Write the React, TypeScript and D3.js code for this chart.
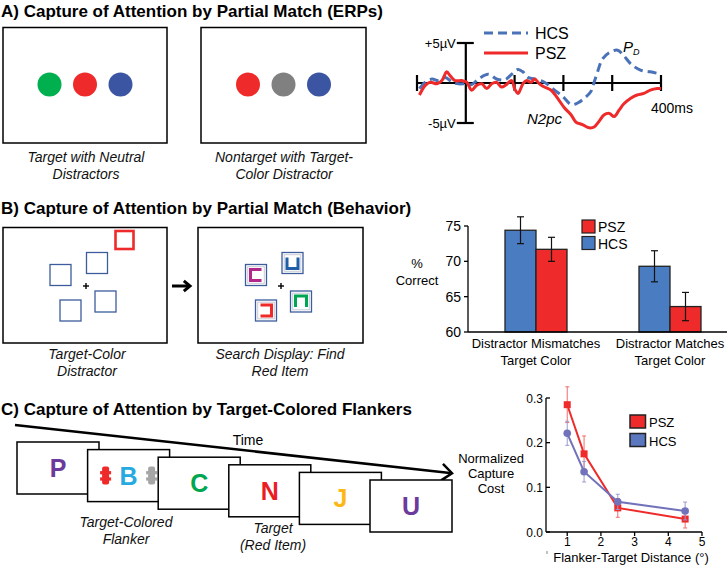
import React from 'react';
import * as d3 from 'd3';

const FONT = "'Liberation Sans', Arial, Helvetica, sans-serif";

// ---------- Panel A: ERP waveforms (time in ms, amplitude in µV) ----------
const hcsTime = [-95, -83, -69, -56, -42, -28, -15, 2, 12, 26, 46, 63, 80, 94, 107, 117, 127, 141, 161, 182, 199, 216, 229, 243, 256, 263, 270, 280, 294, 311, 324, 338, 358, 378, 400];
const hcsUV = [-0.7, 0.1, 0.5, 0.3, 0.7, 0.1, -0.1, -0.1, -0.2, 0.5, 1.1, 0.5, 0.4, 1.1, 1.7, 1.4, 0.7, 0.5, 0.1, -0.9, -1.7, -2.7, -2.5, -1.9, -1.1, 0.1, 1.4, 3.0, 3.8, 4.1, 3.4, 2.4, 1.6, 1.4, 1.1];
const pszTime = [-95, -83, -73, -59, -49, -39, -32, -22, -8, 2, 12, 22, 33, 43, 53, 63, 73, 83, 94, 100, 107, 117, 124, 134, 141, 151, 161, 175, 188, 202, 216, 226, 239, 253, 263, 273, 283, 294, 304, 314, 324, 338, 351, 365, 378, 392, 400];
const pszUV = [-1.5, -0.3, 0.1, -0.1, 0.3, 1.4, 0.9, 0.3, 0.3, 0.1, -0.9, -0.3, -0.1, -0.7, -0.1, 0.1, -0.5, -0.2, 0.3, -0.7, -1.3, -0.1, 0.3, 0.1, 0.5, -0.1, -0.5, -0.9, -1.9, -3.1, -4.0, -4.9, -5.2, -5.6, -5.5, -4.8, -4.0, -3.8, -4.2, -3.4, -2.6, -1.9, -1.5, -1.3, -0.9, -0.7, -0.7];
const erpTimeTicks = [-100, 100, 200, 300, 400];
const erpVoltTicks = [5, -5];
const erpVoltLabels = ['+5µV', '-5µV'];

// ---------- Panel B: accuracy bars ----------
const barCategories = [['Distractor Mismatches', 'Target Color'], ['Distractor Matches', 'Target Color']];
const barGroups = ['HCS', 'PSZ'];
const hcsCorrect = [74.4, 69.3];
const hcsCorrectErr = [1.9, 2.2];
const pszCorrect = [71.7, 63.6];
const pszCorrectErr = [1.7, 2.0];
const correctTicks = [60, 65, 70, 75];

// ---------- Panel C: capture cost ----------
const distances = [1, 1.5, 2.5, 4.5];
const pszCost = [0.285, 0.175, 0.054, 0.029];
const pszCostErr = [0.04, 0.04, 0.021, 0.02];
const hcsCost = [0.221, 0.135, 0.0675, 0.047];
const hcsCostErr = [0.027, 0.023, 0.017, 0.02];
const costTicks = [0, 0.1, 0.2, 0.3];
const distanceTicks = [1, 2, 3, 4, 5];

// ---------- Illustration content ----------
const dotsA1 = ['#00b04f', '#ee2a2a', '#3b55a3'];
const dotsA2 = ['#ee2a2a', '#808080', '#3b55a3'];
const frameLetters = ['P', 'B', 'C', 'N', 'J', 'U'];
const frameColors = ['#6b3a9b', '#27aae1', '#00a650', '#ec1c24', '#fbb817', '#6b3a9b'];

const RED = '#ee2a2a';
const BAR_BLUE = '#4a7cc2';
const ERP_BLUE = '#4a72b8';
const LINE_BLUE = '#7272bb';
const SQ_BLUE = '#3c5c9c';

function Title({ y, children }: { y: number; children: string }) {
  return (
    <text x={1} y={y} fontFamily={FONT} fontWeight="bold" fontSize={17} fill="#000">{children}</text>
  );
}

function Caption({ x, y, lines, size = 14 }: { x: number; y: number; lines: string[]; size?: number }) {
  return (
    <text fontFamily={FONT} fontStyle="italic" fontSize={size} textAnchor="middle" fill="#111">
      {lines.map((l, i) => (
        <tspan key={i} x={x} y={y + i * 17}>{l}</tspan>
      ))}
    </text>
  );
}

function Fixation({ x, y }: { x: number; y: number }) {
  return (
    <g stroke="#000" strokeWidth={1.4}>
      <line x1={x - 3} x2={x + 3} y1={y} y2={y} />
      <line x1={x} x2={x} y1={y - 3} y2={y + 3} />
    </g>
  );
}

function Chevron({ x, y, dx, dy, size, width }: { x: number; y: number; dx: number; dy: number; size: number; width: number }) {
  const ang = Math.atan2(dy, dx);
  const a1 = ang + Math.PI * 0.78;
  const a2 = ang - Math.PI * 0.78;
  return (
    <path
      d={`M${x + size * Math.cos(a1)},${y + size * Math.sin(a1)}L${x},${y}L${x + size * Math.cos(a2)},${y + size * Math.sin(a2)}`}
      fill="none" stroke="#000" strokeWidth={width} strokeLinejoin="miter"
    />
  );
}

export default function App() {
  // ===== Panel A ERP =====
  const ex = d3.scaleLinear().domain([-100, 400]).range([417, 661]);
  const ey = d3.scaleLinear().domain([-5, 5]).range([123, 43]);
  const erpLine = d3.line<number>()
    .x((_, i) => 0)
    .curve(d3.curveCatmullRom.alpha(0.5));
  const hcsPath = d3.line<[number, number]>().x(d => ex(d[0])).y(d => ey(d[1])).curve(d3.curveCatmullRom.alpha(0.5))(hcsTime.map((t, i) => [t, hcsUV[i]]));
  const pszPath = d3.line<[number, number]>().x(d => ex(d[0])).y(d => ey(d[1])).curve(d3.curveCatmullRom.alpha(0.5))(pszTime.map((t, i) => [t, pszUV[i]]));
  void erpLine;

  // ===== Panel B bars =====
  const by = d3.scaleLinear().domain([60, 75]).range([332, 226]);
  const bx = d3.scaleBand<number>().domain([0, 1]).range([469, 737]).padding(0);
  const bw = bx.bandwidth();
  const barW = 31;
  const sub = d3.scaleBand<string>().domain(barGroups).range([bw / 2 - barW, bw / 2 + barW]).padding(0);
  const barSeries = [
    { name: 'HCS', vals: hcsCorrect, errs: hcsCorrectErr, color: BAR_BLUE },
    { name: 'PSZ', vals: pszCorrect, errs: pszCorrectErr, color: RED },
  ];

  // ===== Panel C line chart =====
  const lx = d3.scaleLinear().domain([0.37, 5]).range([546, 702]);
  const ly = d3.scaleLinear().domain([0, 0.3]).range([532, 398]);
  const costLine = d3.line<[number, number]>().x(d => lx(d[0])).y(d => ly(d[1]));
  const lineSeries = [
    { name: 'PSZ', vals: pszCost, errs: pszCostErr, color: RED, err: '#f26b6b', shape: 'square' },
    { name: 'HCS', vals: hcsCost, errs: hcsCostErr, color: LINE_BLUE, err: '#9a9ad2', shape: 'circle' },
  ];

  // ===== Panel B illustration geometry =====
  const sqOffsets: [number, number][] = [[-24.5, -10], [12, -22], [20.5, 16.5], [-14.5, 25.5]];
  const sqSize = 21;
  const m = 5;
  const s = sqSize;
  const bracketPaths = [
    `M${s - m},${m}L${m},${m}L${m},${s - m}L${s - m},${s - m}`, // open right
    `M${m},${m}L${m},${s - m}L${s - m},${s - m}L${s - m},${m}`, // open top
    `M${m},${s - m}L${m},${m}L${s - m},${m}L${s - m},${s - m}`, // open bottom
    `M${m},${m}L${s - m},${m}L${s - m},${s - m}L${m},${s - m}`, // open left
  ];
  const bracketColors = ['#b3268a', '#1f5fa8', '#00a651', RED];

  return (
    <svg width={727} height={565} style={{ position: 'absolute', left: 0, top: 0, background: '#fff' }} fontFamily={FONT}>
      <rect x={0} y={0} width={727} height={565} fill="#fff" />

      {/* ================= Panel A ================= */}
      <Title y={17}>A) Capture of Attention by Partial Match (ERPs)</Title>
      <rect x={3} y={27.5} width={164} height={115.5} fill="none" stroke="#000" strokeWidth={1.5} />
      <rect x={201} y={27.5} width={165} height={115.5} fill="none" stroke="#000" strokeWidth={1.5} />
      {dotsA1.map((c, i) => <circle key={'a1' + i} cx={85 + (i - 1) * 35.5} cy={84.5} r={12} fill={c} />)}
      {dotsA2.map((c, i) => <circle key={'a2' + i} cx={283.5 + (i - 1) * 35.5} cy={84.5} r={12} fill={c} />)}
      <Caption x={86} y={162} lines={['Target with Neutral', 'Distractors']} />
      <Caption x={284} y={162} lines={['Nontarget with Target-', 'Color Distractor']} />

      {/* ERP axes */}
      <g stroke="#000" strokeWidth={2.2}>
        <line x1={ex(-100)} x2={ex(400)} y1={ey(0)} y2={ey(0)} />
        {erpTimeTicks.map(t => <line key={t} x1={ex(t)} x2={ex(t)} y1={ey(0) - 8} y2={ey(0) + 8} />)}
        <line x1={ex(0)} x2={ex(0)} y1={ey(5)} y2={ey(-5)} />
        {erpVoltTicks.map(v => <line key={v} x1={ex(0) - 9} x2={ex(0) + 8} y1={ey(v)} y2={ey(v)} />)}
      </g>
      {erpVoltTicks.map((v, i) => (
        <text key={v} x={ex(0) - 10} y={ey(v) + 5} textAnchor="end" fontSize={13}>{erpVoltLabels[i]}</text>
      ))}
      <path d={hcsPath || ''} fill="none" stroke={ERP_BLUE} strokeWidth={3} strokeDasharray="9,5" />
      <path d={pszPath || ''} fill="none" stroke={RED} strokeWidth={3} />
      {/* ERP legend */}
      <line x1={484} x2={528} y1={33} y2={33} stroke={ERP_BLUE} strokeWidth={3} strokeDasharray="9,5" />
      <line x1={484} x2={528} y1={53} y2={53} stroke={RED} strokeWidth={3} />
      <text x={535} y={39} fontSize={16}>HCS</text>
      <text x={535} y={59} fontSize={16}>PSZ</text>
      <text x={623} y={52} fontSize={15} fontStyle="italic">P<tspan fontSize={9} dy={3}>D</tspan></text>
      <text x={527} y={124} fontSize={15} fontStyle="italic">N2pc</text>
      <text x={651} y={113} fontSize={14}>400ms</text>

      {/* ================= Panel B ================= */}
      <Title y={214}>B) Capture of Attention by Partial Match (Behavior)</Title>
      <rect x={3} y={227.5} width={164} height={115.5} fill="none" stroke="#000" strokeWidth={1.5} />
      <rect x={198} y={227.5} width={165} height={115.5} fill="none" stroke="#000" strokeWidth={1.5} />
      {/* box 1 */}
      {sqOffsets.map(([dx, dy], i) => (
        <rect key={'s1' + i} x={85 + dx - sqSize / 2} y={285 + dy - sqSize / 2} width={sqSize} height={sqSize} fill="none" stroke={SQ_BLUE} strokeWidth={1.3} />
      ))}
      <rect x={85 + 39.5 - 9} y={285 - 45 - 9} width={18} height={18} fill="none" stroke={RED} strokeWidth={2.6} />
      <Fixation x={86} y={286} />
      {/* arrow */}
      <line x1={172} x2={189} y1={286} y2={286} stroke="#000" strokeWidth={3} />
      <Chevron x={190} y={286} dx={1} dy={0} size={8} width={3} />
      {/* box 2 */}
      {sqOffsets.map(([dx, dy], i) => {
        const x0 = 280.5 + dx - sqSize / 2;
        const y0 = 285 + dy - sqSize / 2;
        return (
          <g key={'s2' + i} transform={`translate(${x0},${y0})`}>
            <rect x={0} y={0} width={sqSize} height={sqSize} fill="none" stroke={SQ_BLUE} strokeWidth={1.3} />
            <rect x={2.2} y={2.2} width={sqSize - 4.4} height={sqSize - 4.4} fill="none" stroke="#c9cbd8" strokeWidth={1} />
            <path d={bracketPaths[i]} fill="none" stroke={bracketColors[i]} strokeWidth={3} strokeLinecap="butt" />
          </g>
        );
      })}
      <Fixation x={281} y={286} />
      <Caption x={87} y={359} lines={['Target-Color', 'Distractor']} />
      <Caption x={280} y={359} lines={['Search Display: Find', 'Red Item']} />

      {/* bar chart */}
      {barSeries.map(sr => sr.vals.map((v, i) => (
        <rect key={sr.name + i} x={(bx(i) || 0) + (sub(sr.name) || 0)} y={by(v)} width={barW} height={by(60) - by(v)}
          fill={sr.color} stroke="#222" strokeWidth={1.3} />
      )))}
      {barSeries.map(sr => sr.vals.map((v, i) => {
        const cx = (bx(i) || 0) + (sub(sr.name) || 0) + barW / 2;
        return (
          <g key={'e' + sr.name + i} stroke="#111" strokeWidth={1.2}>
            <line x1={cx} x2={cx} y1={by(v + sr.errs[i])} y2={by(v - sr.errs[i])} />
            <line x1={cx - 3.5} x2={cx + 3.5} y1={by(v + sr.errs[i])} y2={by(v + sr.errs[i])} />
            <line x1={cx - 3.5} x2={cx + 3.5} y1={by(v - sr.errs[i])} y2={by(v - sr.errs[i])} />
          </g>
        );
      }))}
      <g stroke="#000" strokeWidth={1.3}>
        <line x1={468} x2={468} y1={by(75)} y2={by(60)} />
        <line x1={468} x2={727} y1={by(60)} y2={by(60)} />
        {correctTicks.map(t => <line key={t} x1={464} x2={468} y1={by(t)} y2={by(t)} />)}
      </g>
      {correctTicks.map(t => (
        <text key={t} x={461} y={by(t) + 5} textAnchor="end" fontSize={14}>{t}</text>
      ))}
      {barCategories.map((lines, i) => (
        <text key={i} textAnchor="middle" fontSize={13}>
          {lines.map((l, j) => <tspan key={j} x={(bx(i) || 0) + bw / 2} y={348 + j * 17}>{l}</tspan>)}
        </text>
      ))}
      <text textAnchor="middle" fontSize={13}>
        <tspan x={417} y={268}>%</tspan>
        <tspan x={417} y={285}>Correct</tspan>
      </text>
      {/* bar legend */}
      <rect x={582} y={220} width={13} height={13} fill={RED} stroke="#222" strokeWidth={1.2} />
      <rect x={582} y={236.5} width={13} height={13} fill={BAR_BLUE} stroke="#222" strokeWidth={1.2} />
      <text x={598} y={232} fontSize={14}>PSZ</text>
      <text x={598} y={249} fontSize={14}>HCS</text>

      {/* ================= Panel C ================= */}
      <Title y={415}>C) Capture of Attention by Target-Colored Flankers</Title>
      {/* time arrow */}
      <line x1={15} y1={425} x2={450} y2={473} stroke="#000" strokeWidth={2.5} />
      <Chevron x={452} y={473.2} dx={435} dy={48} size={13} width={2.5} />
      <text x={248} y={445} textAnchor="middle" fontSize={14}>Time</text>
      {frameLetters.map((L, i) => {
        const fx = 17 + i * 70.6;
        const fy = 442 + i * 7.6;
        const cx = fx + 41;
        const cy = fy + 26;
        return (
          <g key={'f' + i}>
            <rect x={fx} y={fy} width={82} height={52} fill="#fff" stroke="#000" strokeWidth={1.5} />
            <text x={cx} y={cy + 9} textAnchor="middle" fontSize={25} fontWeight="bold" fill={frameColors[i]}>{L}</text>
            {i === 1 && [-23, 23].map((off, k) => (
              <g key={k} fill={k === 0 ? RED : '#a6a6a6'} transform={`translate(${cx + off},${cy})`}>
                <rect x={-3.5} y={-9} width={7} height={18} rx={2} />
                <rect x={-5.5} y={-4.5} width={11} height={3.2} />
                <rect x={-5.5} y={1.8} width={11} height={3.2} />
              </g>
            ))}
          </g>
        );
      })}
      <Caption x={126} y={527} lines={['Target-Colored', 'Flanker']} />
      <Caption x={273} y={533} lines={['Target', '(Red Item)']} />

      {/* cost line chart */}
      <g stroke="#000" strokeWidth={1.3}>
        <line x1={546} x2={546} y1={ly(0.3)} y2={ly(0)} />
        <line x1={546} x2={702} y1={ly(0)} y2={ly(0)} />
        {costTicks.map(t => <line key={t} x1={546} x2={550} y1={ly(t)} y2={ly(t)} />)}
        {distanceTicks.map(t => <line key={t} x1={lx(t)} x2={lx(t)} y1={ly(0)} y2={ly(0) + 4} />)}
      </g>
      {costTicks.map(t => (
        <text key={t} x={543} y={ly(t) + 4.5} textAnchor="end" fontSize={12}>{t.toFixed(1)}</text>
      ))}
      {distanceTicks.map(t => (
        <text key={t} x={lx(t)} y={546} textAnchor="middle" fontSize={12}>{t}</text>
      ))}
      {lineSeries.map(sr => (
        <g key={sr.name}>
          <path d={costLine(distances.map((d, i) => [d, sr.vals[i]])) || ''} fill="none" stroke={sr.color} strokeWidth={2} />
          {distances.map((d, i) => (
            <g key={i} stroke={sr.err} strokeWidth={1}>
              <line x1={lx(d)} x2={lx(d)} y1={ly(sr.vals[i] + sr.errs[i])} y2={ly(sr.vals[i] - sr.errs[i])} />
              <line x1={lx(d) - 2} x2={lx(d) + 2} y1={ly(sr.vals[i] + sr.errs[i])} y2={ly(sr.vals[i] + sr.errs[i])} />
              <line x1={lx(d) - 2} x2={lx(d) + 2} y1={ly(sr.vals[i] - sr.errs[i])} y2={ly(sr.vals[i] - sr.errs[i])} />
            </g>
          ))}
          {distances.map((d, i) => sr.shape === 'square'
            ? <rect key={'m' + i} x={lx(d) - 3.5} y={ly(sr.vals[i]) - 3.5} width={7} height={7} fill={sr.color} />
            : <circle key={'m' + i} cx={lx(d)} cy={ly(sr.vals[i])} r={3.8} fill={sr.color} />)}
        </g>
      ))}
      <rect x={630} y={415} width={15.5} height={13} fill={RED} stroke="#222" strokeWidth={1.5} />
      <rect x={630} y={433.5} width={15.5} height={13} fill={'#5b77c0'} stroke="#222" strokeWidth={1.5} />
      <text x={649} y={427} fontSize={13}>PSZ</text>
      <text x={649} y={445.5} fontSize={13}>HCS</text>
      <text textAnchor="middle" fontSize={13}>
        <tspan x={491} y={463}>Normalized</tspan>
        <tspan x={491} y={478}>Capture</tspan>
        <tspan x={491} y={493}>Cost</tspan>
      </text>
      <line x1={547} x2={547} y1={551} y2={554} stroke="#666" strokeWidth={0.8} />
      <text x={631} y={562} textAnchor="middle" fontSize={13}>Flanker-Target Distance (°)</text>
    </svg>
  );
}
